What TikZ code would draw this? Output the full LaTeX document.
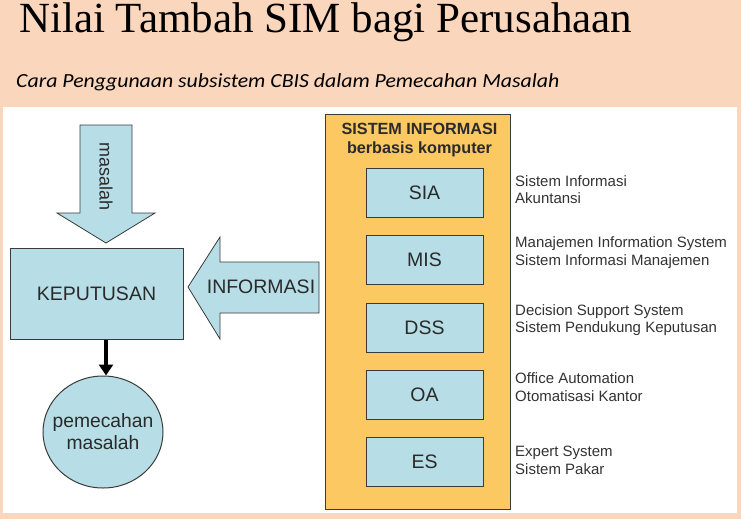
\documentclass[tikz,border=0pt]{standalone}
\usepackage{fontspec}
\setmainfont{Liberation Sans}
\newfontfamily\titlefont{Liberation Serif}
\newfontfamily\subfont{Carlito}
\usetikzlibrary{arrows.meta,shapes.geometric}
\definecolor{peach}{HTML}{FAD6BC}
\definecolor{lblue}{HTML}{B7DEE6}
\definecolor{orng}{HTML}{FBC862}
\definecolor{edge}{HTML}{3A3A3A}
\definecolor{txt}{HTML}{2A2A2A}
\tikzset{
  bluebox/.style={draw=edge,line width=1pt,fill=lblue,inner sep=0pt,text=txt},
  subbox/.style={bluebox,minimum width=117pt,minimum height=49pt,font=\fontsize{19.5}{22}\selectfont},
  blockarrow/.style={draw=edge,line width=0.8pt,fill=lblue,line join=miter},
  desc/.style={anchor=west,align=left,inner sep=0pt,font=\fontsize{15}{17.5}\selectfont,text=black!80}
}
\begin{document}
\begin{tikzpicture}[x=1pt,y=-1pt]
\useasboundingbox (0,0) rectangle (741,519);
\fill[peach] (0,0) rectangle (741,519);
\fill[white] (3,107) rectangle (737,513);
% titles
\node[anchor=base west,inner sep=0pt,font=\titlefont\fontsize{43}{48}\selectfont] (title) at (19,33) {Nilai Tambah SIM bagi Perusahaan};
\node[anchor=base west,inner sep=0pt,xscale=1.09,font=\subfont\itshape\fontsize{20}{22}\selectfont] (sub) at (16,87) {Cara Penggunaan subsistem CBIS dalam Pemecahan Masalah};
% masalah arrow
\draw[blockarrow] (80,125) -- (132,125) -- (132,213) -- (155,213) -- (106,243) -- (57,213) -- (80,213) -- cycle;
\node[rotate=-90,text=txt,font=\fontsize{18}{20}\selectfont] (mas) at (106,176.5) {masalah};
% keputusan
\node[bluebox,minimum width=173pt,minimum height=91pt,font=\fontsize{19.5}{22}\selectfont] (kep) at (96.5,293.5) {KEPUTUSAN};
% informasi arrow
\draw[blockarrow] (319,262) -- (220,262) -- (220,237) -- (188,287) -- (220,339) -- (220,313) -- (319,313) -- cycle;
\node[text=txt,font=\fontsize{19.5}{22}\selectfont] (inf) at (261,287) {INFORMASI};
% circle
\node[bluebox,ellipse,minimum width=120pt,minimum height=112pt] (pem) at (103,432) {};
\node[align=center,inner sep=0pt,text=txt,font=\fontsize{19.3}{22}\selectfont] (pemtext) at (pem.center) {pemecahan\\masalah};
\draw[line width=3.5pt,-{Triangle[length=11pt,width=14pt]}] (kep.south -| 106,0) -- (pem.north -| 106,0);
% orange system box
\node[draw=edge,line width=1pt,fill=orng,minimum width=185pt,minimum height=395pt,inner sep=0pt] (sys) at (417.5,311.5) {};
\node[align=center,font=\bfseries\fontsize{16.2}{19}\selectfont,text=txt] (systitle) at (419.5,140.5) {SISTEM INFORMASI\\berbasis komputer};
\node[subbox] (sia) at (424.5,192.5) {SIA};
\node[subbox] (mis) at (424.5,260) {MIS};
\node[subbox] (dss) at (424.5,327.5) {DSS};
\node[subbox] (oa) at (424.5,394.5) {OA};
\node[subbox] (es) at (424.5,462) {ES};
\node[desc] (dsia) at (515,189.5) {Sistem Informasi\\Akuntansi};
\node[desc] (dmis) at (515,252.5) {Manajemen Information System\\Sistem Informasi Manajemen};
\node[desc] (ddss) at (515,320) {Decision Support System\\Sistem Pendukung Keputusan};
\node[desc] (doa) at (515,387) {Office Automation\\Otomatisasi Kantor};
\node[desc] (des) at (515,460.5) {Expert System\\Sistem Pakar};
\end{tikzpicture}
\end{document}
